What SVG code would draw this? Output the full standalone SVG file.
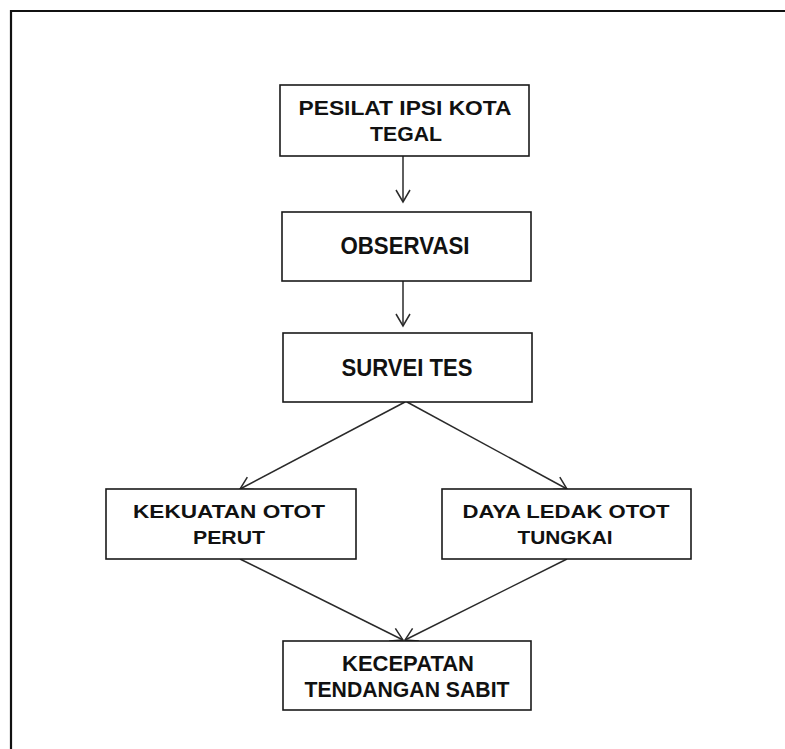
<svg xmlns="http://www.w3.org/2000/svg" width="785" height="749" viewBox="0 0 785 749">
<defs>
<style>
.box{fill:#fff;stroke:#1a1a1a;stroke-width:1.6}
.t{font-family:"Liberation Sans",Arial,sans-serif;font-weight:bold;fill:#111;text-anchor:middle}
.c{stroke:#2a2a2a;stroke-width:1.5;fill:none}
</style>
<marker id="ah" markerUnits="userSpaceOnUse" viewBox="-14 -9 16 18" refX="0" refY="0" markerWidth="16" markerHeight="18" orient="auto">
<path d="M-12,-7 L0,0 L-12,7" fill="none" stroke="#2a2a2a" stroke-width="1.5"/>
</marker>
</defs>
<rect x="0" y="0" width="785" height="749" fill="#fff"/>
<path d="M11,760 L11,11 L800,11" fill="none" stroke="#111" stroke-width="2.2"/>
<g id="connectors">
<line class="c" x1="403" y1="156" x2="403" y2="202" marker-end="url(#ah)"/>
<line class="c" x1="403" y1="281" x2="403" y2="326" marker-end="url(#ah)"/>
<line class="c" x1="405" y1="402" x2="240" y2="489" marker-end="url(#ah)"/>
<line class="c" x1="407" y1="402" x2="567" y2="489" marker-end="url(#ah)"/>
<line class="c" x1="240" y1="559" x2="403" y2="640" marker-end="url(#ah)"/>
<line class="c" x1="567" y1="559" x2="405" y2="640" marker-end="url(#ah)"/>
</g>
<g id="n1">
<rect class="box" x="280" y="85" width="249" height="71"/>
<text class="t" x="405" y="115" font-size="21" textLength="213" lengthAdjust="spacingAndGlyphs">PESILAT IPSI KOTA</text>
<text class="t" x="406" y="141" font-size="21" textLength="72" lengthAdjust="spacingAndGlyphs">TEGAL</text>
</g>
<g id="n2">
<rect class="box" x="282" y="212" width="249" height="69"/>
<text class="t" x="405" y="254" font-size="23" textLength="129" lengthAdjust="spacingAndGlyphs">OBSERVASI</text>
</g>
<g id="n3">
<rect class="box" x="283" y="333" width="249" height="69"/>
<text class="t" x="407" y="376" font-size="23" textLength="131" lengthAdjust="spacingAndGlyphs">SURVEI TES</text>
</g>
<g id="n4">
<rect class="box" x="106" y="489" width="250" height="70"/>
<text class="t" x="229" y="518" font-size="18" textLength="192" lengthAdjust="spacingAndGlyphs">KEKUATAN OTOT</text>
<text class="t" x="229" y="544" font-size="18" textLength="72" lengthAdjust="spacingAndGlyphs">PERUT</text>
</g>
<g id="n5">
<rect class="box" x="442" y="489" width="249" height="70"/>
<text class="t" x="566" y="518" font-size="18" textLength="207" lengthAdjust="spacingAndGlyphs">DAYA LEDAK OTOT</text>
<text class="t" x="565" y="544" font-size="18" textLength="95" lengthAdjust="spacingAndGlyphs">TUNGKAI</text>
</g>
<g id="n6">
<rect class="box" x="283" y="641" width="248" height="69"/>
<text class="t" x="408" y="671" font-size="22" textLength="132" lengthAdjust="spacingAndGlyphs">KECEPATAN</text>
<text class="t" x="407" y="697" font-size="22" textLength="205" lengthAdjust="spacingAndGlyphs">TENDANGAN  SABIT</text>
</g>
</svg>
